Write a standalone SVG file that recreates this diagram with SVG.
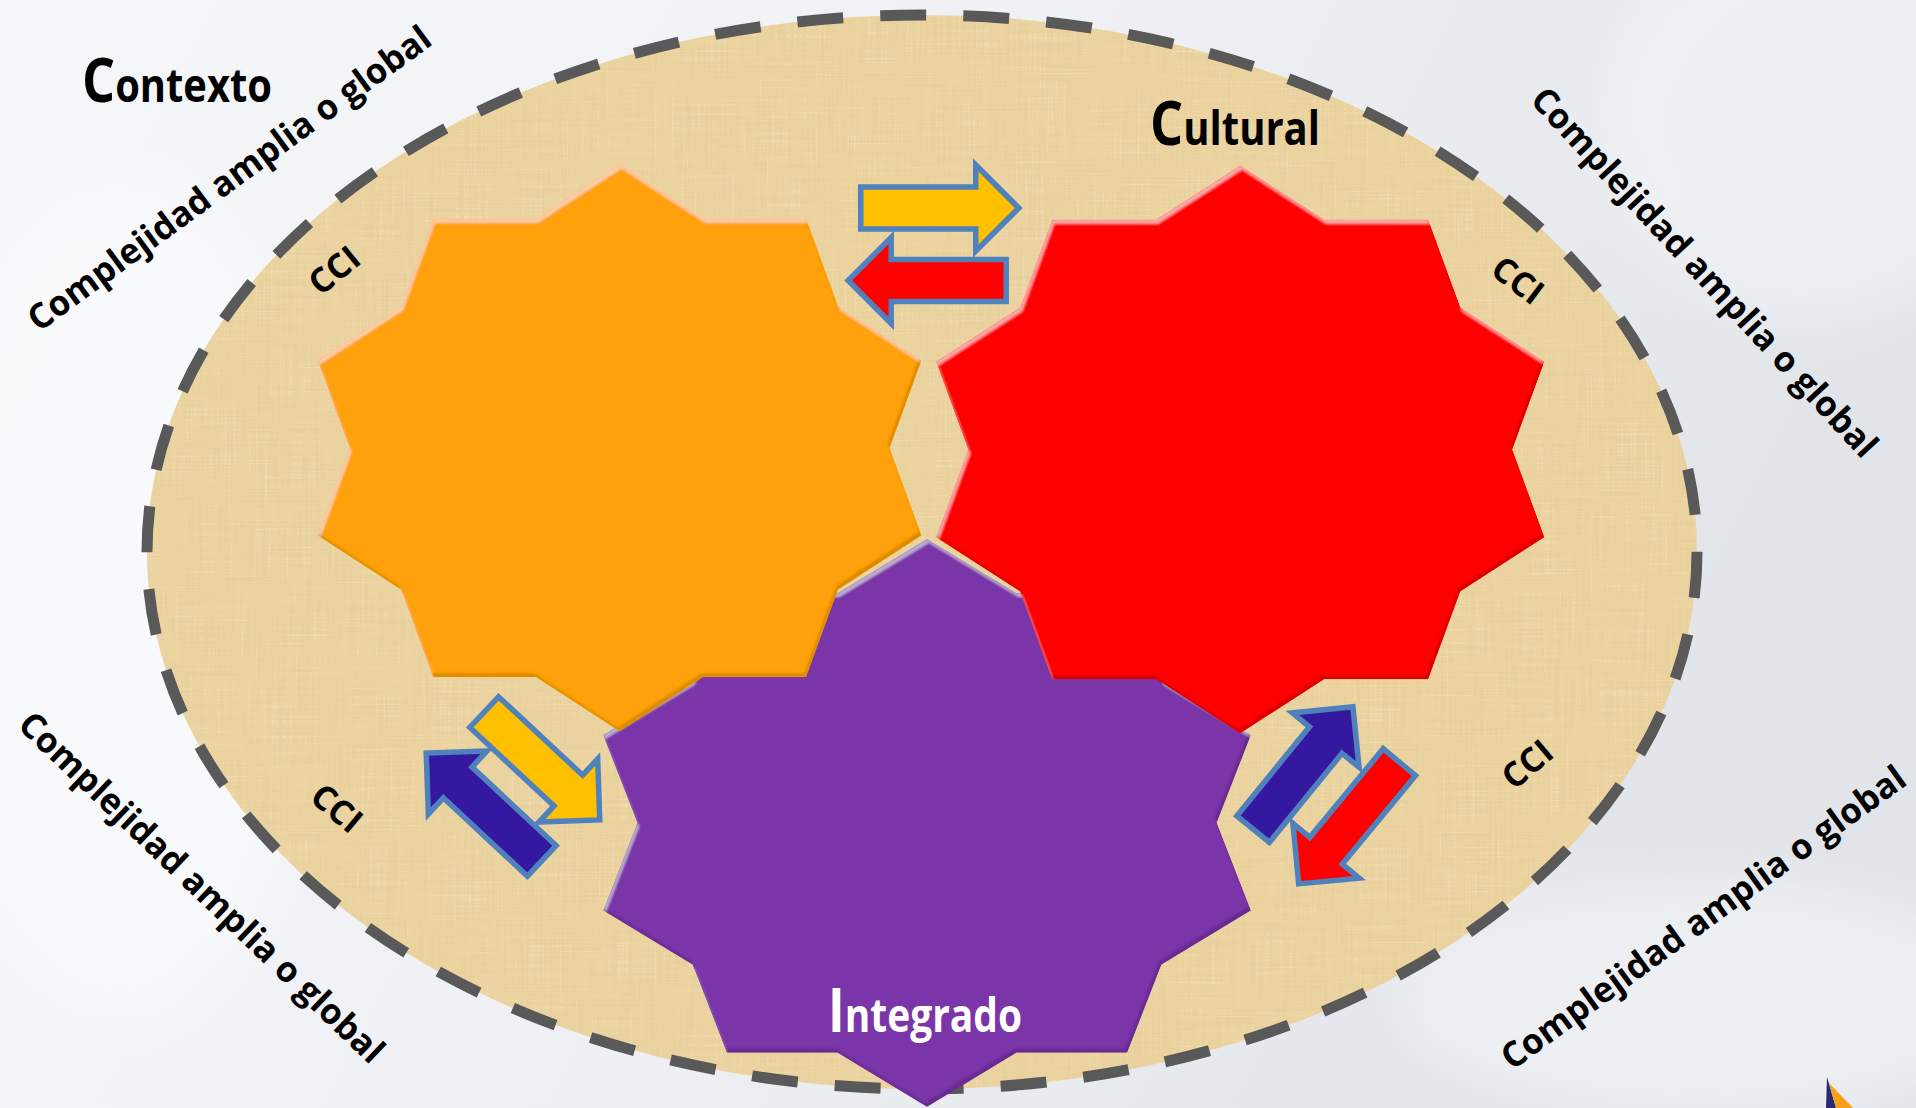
<svg xmlns="http://www.w3.org/2000/svg" width="1916" height="1108" viewBox="0 0 1916 1108">
<defs>
<style>
.lbl{font-family:"Open Sans","Noto Sans","DejaVu Sans",sans-serif;font-weight:700;fill:#000}
.big{font-size:46px}
.cci{font-size:34px}
.cx{font-size:35px}
.arrow{stroke:#4F81BD;stroke-width:5.5;stroke-linejoin:miter}
</style>
<linearGradient id="bg" x1="0" y1="0" x2="1" y2="0.3">
<stop offset="0" stop-color="#f6f7f9"/>
<stop offset="0.55" stop-color="#eef0f3"/>
<stop offset="1" stop-color="#e1e5ea"/>
</linearGradient>
<filter id="soft" x="-20%" y="-20%" width="140%" height="140%"><feGaussianBlur stdDeviation="25"/></filter>
<filter id="paper" x="0" y="0" width="1" height="1">
<feTurbulence type="fractalNoise" baseFrequency="0.55 0.012" numOctaves="2" seed="2" result="v"/>
<feTurbulence type="fractalNoise" baseFrequency="0.012 0.55" numOctaves="2" seed="5" result="h"/>
<feComposite in="v" in2="h" operator="arithmetic" k1="0" k2="0.5" k3="0.5" k4="0" result="n"/>
<feColorMatrix in="n" type="matrix" values="0 0 0 0 0.78  0 0 0 0 0.62  0 0 0 0 0.32  2.2 0 0 0 -0.98" result="d"/>
<feColorMatrix in="n" type="matrix" values="0 0 0 0 1  0 0 0 0 0.95  0 0 0 0 0.78  -2.2 0 0 0 0.98" result="l"/>
<feMerge result="m"><feMergeNode in="d"/><feMergeNode in="l"/></feMerge>
<feComposite in="m" in2="SourceAlpha" operator="in"/>
</filter>
<filter id="bevel" x="-2%" y="-2%" width="104%" height="104%">
<feOffset in="SourceAlpha" dx="2" dy="4" result="o1"/>
<feComposite in="SourceAlpha" in2="o1" operator="out" result="e1"/>
<feGaussianBlur in="e1" stdDeviation="1.3" result="e1b"/>
<feFlood flood-color="#ffffff" flood-opacity="0.4"/>
<feComposite in2="e1b" operator="in" result="hl"/>
<feOffset in="SourceAlpha" dx="-2" dy="-4" result="o2"/>
<feComposite in="SourceAlpha" in2="o2" operator="out" result="e2"/>
<feGaussianBlur in="e2" stdDeviation="1.3" result="e2b"/>
<feFlood flood-color="#000000" flood-opacity="0.3"/>
<feComposite in2="e2b" operator="in" result="sh"/>
<feMerge result="mg"><feMergeNode in="SourceGraphic"/><feMergeNode in="hl"/><feMergeNode in="sh"/></feMerge>
<feComposite in="mg" in2="SourceAlpha" operator="in"/>
</filter>
<path id="arr" d="M-79,-21 H36 V-43 L79,0 L36,43 V21 H-79 Z"/>
</defs>

<g id="background">
<rect x="0" y="0" width="1916" height="1108" fill="url(#bg)"/>
<ellipse cx="1820" cy="120" rx="220" ry="200" fill="#ffffff" opacity="0.35" filter="url(#soft)"/>
<ellipse cx="120" cy="600" rx="200" ry="420" fill="#ffffff" opacity="0.5" filter="url(#soft)"/>
<ellipse cx="1700" cy="1000" rx="300" ry="120" fill="#ffffff" opacity="0.4" filter="url(#soft)"/>
</g>

<g id="context-ellipse">
<ellipse cx="922" cy="552" rx="775" ry="537" fill="#EBD3A0"/>
<ellipse cx="922" cy="552" rx="775" ry="537" fill="#000" filter="url(#paper)" opacity="0.6"/>
<ellipse cx="922" cy="552" rx="775" ry="537" fill="none" stroke="#595959" stroke-width="11" stroke-dasharray="46 37.1"/>
</g>

<g id="node-integrado" filter="url(#bevel)">
<path fill="#7A36A8" d="M927,538.7 L1016.55,592.96 L1127.24,592.96 L1161.45,680.75 L1251,735.01 L1216.79,822.8 L1251,910.59 L1161.45,964.85 L1127.24,1052.64 L1016.55,1052.64 L927,1106.9 L837.45,1052.64 L726.76,1052.64 L692.55,964.85 L603,910.59 L637.21,822.8 L603,735.01 L692.55,680.75 L726.76,592.96 L837.45,592.96 Z"/>
</g>

<g id="node-contexto" filter="url(#bevel)">
<path fill="#FFA10A" d="M619.6,164.5 L703.07,218.64 L806.25,218.64 L838.13,306.25 L921.6,360.39 L889.72,448 L921.6,535.61 L838.13,589.75 L806.25,677.36 L703.07,677.36 L619.6,731.5 L536.13,677.36 L432.95,677.36 L401.07,589.75 L317.6,535.61 L349.48,448 L317.6,360.39 L401.07,306.25 L432.95,218.64 L536.13,218.64 Z"/>
</g>

<g id="node-cultural" filter="url(#bevel)">
<path fill="#FF0606" d="M1240.2,165.3 L1324.31,219.56 L1428.27,219.56 L1460.39,307.35 L1544.5,361.61 L1512.37,449.4 L1544.5,537.19 L1460.39,591.45 L1428.27,679.24 L1324.31,679.24 L1240.2,733.5 L1156.09,679.24 L1052.13,679.24 L1020.01,591.45 L935.9,537.19 L968.03,449.4 L935.9,361.61 L1020.01,307.35 L1052.13,219.56 L1156.09,219.56 Z"/>
</g>

<g id="connectors">
<use href="#arr" class="arrow" fill="#FFC000" transform="translate(939.75,208)"/>
<use href="#arr" class="arrow" fill="#FF0000" transform="translate(927.2,280.5) rotate(180)"/>
<use href="#arr" class="arrow" fill="#FFC000" transform="translate(542,766) rotate(43)"/>
<use href="#arr" class="arrow" fill="#3418A0" transform="translate(484,807) rotate(223)"/>
<use href="#arr" class="arrow" fill="#3418A0" transform="translate(1303,768) rotate(-50.8)"/>
<use href="#arr" class="arrow" fill="#FF0000" transform="translate(1349,823) rotate(129.6)"/>
</g>

<g id="labels">
<text class="lbl big" x="82" y="102" textLength="190" lengthAdjust="spacingAndGlyphs"><tspan font-size="60">C</tspan>ontexto</text>
<text class="lbl big" x="1150" y="145" textLength="170" lengthAdjust="spacingAndGlyphs"><tspan font-size="60">C</tspan>ultural</text>
<text class="lbl big" x="828" y="1032" textLength="194" lengthAdjust="spacingAndGlyphs" style="fill:#fff"><tspan font-size="60">I</tspan>ntegrado</text>

<text class="lbl cci" text-anchor="middle" dy="0.36em" transform="translate(334,270) rotate(-39)">CCI</text>
<text class="lbl cci" text-anchor="middle" dy="0.36em" transform="translate(1518,280) rotate(37)">CCI</text>
<text class="lbl cci" text-anchor="middle" dy="0.36em" transform="translate(337,808) rotate(40)">CCI</text>
<text class="lbl cci" text-anchor="middle" dy="0.36em" transform="translate(1527,764) rotate(-40)">CCI</text>

<text class="lbl cx" text-anchor="middle" dy="0.36em" textLength="490" lengthAdjust="spacingAndGlyphs" transform="translate(229,178) rotate(-36.2)">Complejidad amplia o global</text>
<text class="lbl cx" text-anchor="middle" dy="0.36em" textLength="490" lengthAdjust="spacingAndGlyphs" transform="translate(1705,272) rotate(47.1)">Complejidad amplia o global</text>
<text class="lbl cx" text-anchor="middle" dy="0.36em" textLength="490" lengthAdjust="spacingAndGlyphs" transform="translate(202,887) rotate(43.7)">Complejidad amplia o global</text>
<text class="lbl cx" text-anchor="middle" dy="0.36em" textLength="490" lengthAdjust="spacingAndGlyphs" transform="translate(1703,917) rotate(-35.9)">Complejidad amplia o global</text>
</g>

<g id="logo">
<path d="M1827,1077 L1836,1108 L1826,1108 Z" fill="#2B2A6E"/>
<path d="M1829,1083 L1853,1108 L1836,1108 Z" fill="#F7A11A"/>
</g>
</svg>
